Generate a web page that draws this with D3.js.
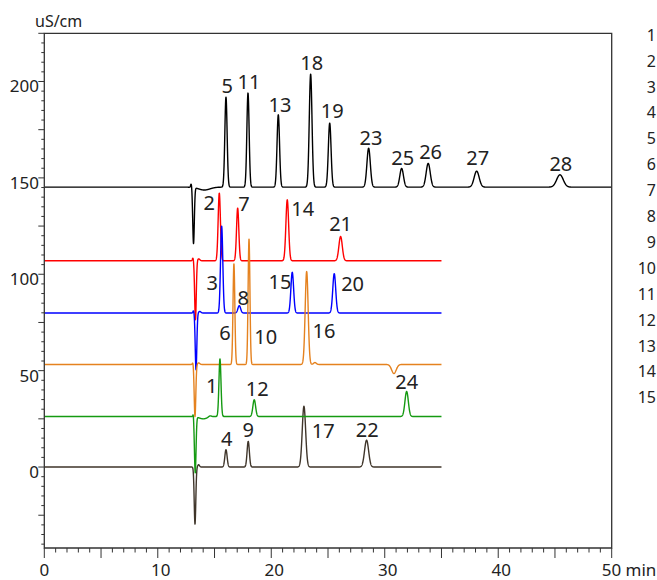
<!DOCTYPE html>
<html lang="en">
<head>
<meta charset="utf-8">
<title>Chromatogram overlay</title>
<script src="https://d3js.org/d3.v7.min.js"></script>
<style>
  body { margin: 0; background: #fff; }
  text { font-family: "Noto Sans", "Open Sans", sans-serif; fill: #222; }
</style>
</head>
<body>
<script>
// traces from top to bottom: baseline (uS/cm), run end (min), colour
var baselines = [145.2, 107.0, 79.9, 53.2, 26.2, 0];
var runEnds = [50, 35, 35, 35, 35, 35];
var colors = ["#000000", "#ff0000", "#0000ff", "#e5821f", "#159a12", "#3f352a"];

// peaks per trace: [retention time (min), height (uS/cm), width sigma (min)]
var peaksBlack = [[12.95, 2, 0.05], [13.15, -29, 0.07], [14.1, -1.5, 0.5],
  [16.01, 46.7, 0.1], [17.95, 48.8, 0.1], [20.62, 37.5, 0.11], [23.47, 58.6, 0.12],
  [25.15, 33.2, 0.12], [28.58, 20.2, 0.15], [31.49, 9.7, 0.16], [33.83, 12.3, 0.18],
  [38.1, 8.3, 0.22], [45.44, 6.4, 0.29]];
var peaksRed = [[13.1, 1.5, 0.05], [13.32, -30.6, 0.07], [13.6, 1, 0.1],
  [15.42, 35.1, 0.1], [17.04, 27.3, 0.1], [21.41, 31.6, 0.12], [26.11, 12.6, 0.15]];
var peaksBlue = [[13.15, 1.2, 0.05], [13.37, -29.4, 0.07], [13.7, 0.8, 0.1],
  [15.63, 45.0, 0.1], [17.18, 3.8, 0.12], [21.85, 21.1, 0.12], [25.55, 20.4, 0.13]];
var peaksOrange = [[13.1, 1.2, 0.05], [13.28, -27, 0.07], [13.6, 0.8, 0.1],
  [16.71, 52.2, 0.08], [18.04, 65.0, 0.08], [23.12, 48.2, 0.13], [23.85, 1.0, 0.12],
  [30.81, -4.7, 0.2]];
var peaksGreen = [[13.13, 1.8, 0.04], [13.3, -29, 0.07], [14.0, -1.2, 0.35],
  [14.6, 0.6, 0.12], [15.48, 29.9, 0.09], [18.5, 8.7, 0.12], [31.93, 13.0, 0.15]];
var peaksBrown = [[13.28, -29.6, 0.07], [13.6, 1.2, 0.08],
  [16.01, 9.0, 0.1], [17.97, 13.3, 0.1], [22.88, 31.5, 0.15], [28.4, 13.9, 0.18]];
var tracePeaks = [peaksBlack, peaksRed, peaksBlue, peaksOrange, peaksGreen, peaksBrown];

// peak numbers: [label, time (min), signal (uS/cm)] at the label's baseline centre
var peakLabels = [
  ["5", 16.12, 194.0], ["11", 18.04, 196.2], ["13", 20.77, 184.1], ["18", 23.56, 206.1],
  ["19", 25.37, 181.0], ["23", 28.78, 167.2], ["25", 31.58, 156.8], ["26", 34.04, 159.9],
  ["27", 38.19, 156.8], ["28", 45.52, 153.8],
  ["2", 14.54, 133.5], ["7", 17.59, 132.6], ["14", 22.77, 130.3], ["21", 26.11, 122.2],
  ["3", 14.80, 92.0], ["8", 17.53, 84.2], ["15", 20.77, 92.3], ["20", 27.17, 91.1],
  ["6", 15.92, 65.7], ["10", 19.51, 64.0], ["16", 24.64, 66.9],
  ["1", 14.75, 38.4], ["12", 18.77, 37.0], ["24", 31.93, 40.5],
  ["4", 16.07, 10.7], ["9", 17.97, 15.6], ["17", 24.58, 15.0], ["22", 28.46, 15.6]];

var xTickLabels = [0, 10, 20, 30, 40];
var yTickLabels = [0, 50, 100, 150, 200];
var sideList = d3.range(1, 16);

var w = 657, h = 580;
var padL = 44.3, padR = 611.7, padT = 33.3, padB = 548;

var x = d3.scaleLinear().domain([0, 50]).range([padL, padR]);
var y = d3.scaleLinear().domain([-42, 225]).range([padB, padT]);

var svg = d3.select("body").append("svg")
  .attr("width", w)
  .attr("height", h);

// ticks
var yMinor = d3.range(-40, 226, 5);
svg.selectAll("line.yt").data(yMinor).enter().append("line")
  .attr("x1", function(d) { return padL - (d % 25 === 0 ? 6 : 3); })
  .attr("x2", padL)
  .attr("y1", function(d) { return y(d); })
  .attr("y2", function(d) { return y(d); })
  .attr("stroke", "#333").attr("stroke-width", 1);

var xMinor = d3.range(0, 51, 1);
svg.selectAll("line.xt").data(xMinor).enter().append("line")
  .attr("x1", function(d) { return x(d); })
  .attr("x2", function(d) { return x(d); })
  .attr("y1", padB)
  .attr("y2", function(d) { return padB + (d % 5 === 0 ? 10 : 4.5); })
  .attr("stroke", "#333").attr("stroke-width", 1);

// traces
var line = d3.line()
  .x(function(d) { return x(d[0]); })
  .y(function(d) { return y(d[1]); });

function traceData(i) {
  var pts = [];
  var n = Math.round(runEnds[i] / 0.01);
  for (var k = 0; k <= n; k++) {
    var t = k * 0.01;
    var v = baselines[i];
    tracePeaks[i].forEach(function(p) {
      var z = (t - p[0]) / p[2];
      v += p[1] * Math.exp(-0.5 * z * z);
    });
    pts.push([t, v]);
  }
  return pts;
}

var drawOrder = [0, 5, 1, 2, 3, 4];
drawOrder.forEach(function(i) {
  svg.append("path")
    .attr("d", line(traceData(i)))
    .attr("fill", "none")
    .attr("stroke", colors[i])
    .attr("stroke-width", 1.4)
    .attr("stroke-linejoin", "round");
});

// frame
svg.append("path")
  .attr("d", "M" + padL + "," + padT + "V" + padB + "H" + padR + "V" + padT + "Z")
  .attr("fill", "none")
  .attr("stroke", "#333")
  .attr("stroke-width", 1.3);

// tick labels
svg.selectAll("text.yl").data(yTickLabels).enter().append("text")
  .attr("x", 39)
  .attr("y", function(d) { return y(d) + 11; })
  .attr("text-anchor", "end")
  .attr("font-size", 17)
  .text(function(d) { return d; });

svg.selectAll("text.xl").data(xTickLabels).enter().append("text")
  .attr("x", function(d) { return x(d) + (d === 0 ? 0 : 3); })
  .attr("y", 576)
  .attr("text-anchor", "middle")
  .attr("font-size", 17)
  .text(function(d) { return d; });

svg.append("text")
  .attr("x", x(50) - 10)
  .attr("y", 576)
  .attr("font-size", 17)
  .text("50 min");

svg.append("text")
  .attr("x", 35)
  .attr("y", 26.5)
  .attr("font-size", 16)
  .text("uS/cm");

// peak numbers
svg.selectAll("text.pk").data(peakLabels).enter().append("text")
  .attr("x", function(d) { return x(d[1]); })
  .attr("y", function(d) { return y(d[2]); })
  .attr("text-anchor", "middle")
  .attr("font-size", 20)
  .text(function(d) { return d[0]; });

// component list on the right
svg.selectAll("text.side").data(sideList).enter().append("text")
  .attr("x", 656)
  .attr("y", function(d, i) { return 40.7 + i * 25.9; })
  .attr("text-anchor", "end")
  .attr("font-size", 16)
  .text(function(d) { return d; });
</script>
</body>
</html>
